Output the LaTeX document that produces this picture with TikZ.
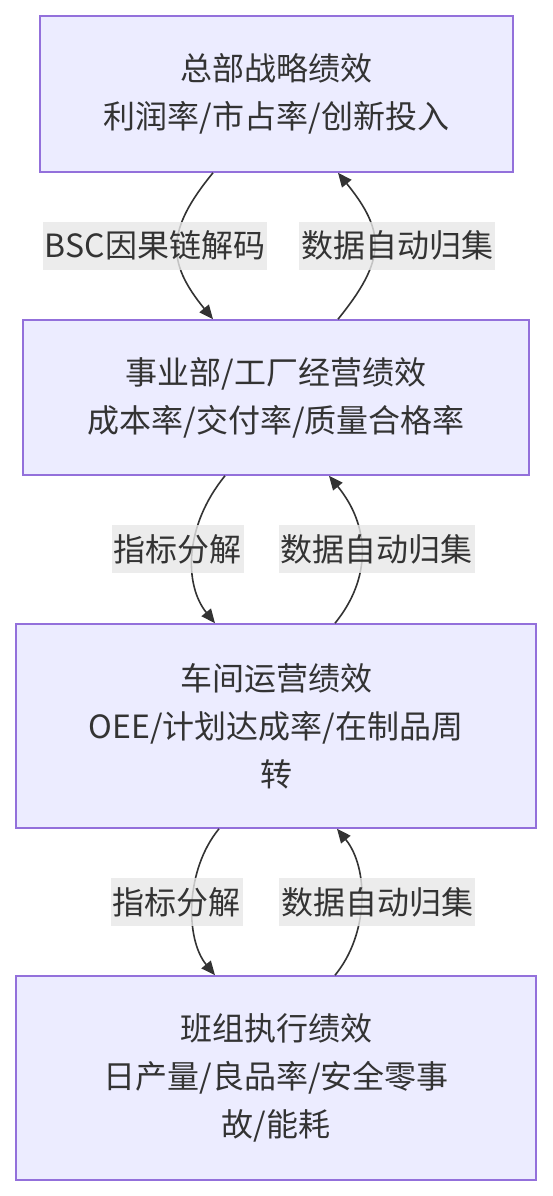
\documentclass[tikz,border=0pt]{standalone}
\usepackage{fontspec}
\setmainfont{Noto Sans CJK SC}
\usetikzlibrary{arrows.meta}
\definecolor{boxfill}{HTML}{ECECFF}
\definecolor{boxline}{HTML}{9370DB}
\definecolor{txt}{HTML}{333333}
\definecolor{lblbg}{HTML}{E8E8E8}
\tikzset{
  level/.style={draw=boxline, fill=boxfill, line width=1.6pt, text=txt, align=center,
    font=\fontsize{32}{48}\selectfont, inner sep=0pt},
  conn/.style={draw=txt, line width=1.6pt, -{Triangle[length=14pt,width=12pt]}},
  lbl/.style={fill=lblbg, fill opacity=0.8, text opacity=1, text=txt,
    font=\fontsize{32}{38}\selectfont, inner xsep=2pt, inner ysep=0pt, minimum height=48pt}
}
\begin{document}
\begin{tikzpicture}[x=1pt,y=-1pt]
\useasboundingbox (0,0) rectangle (552,1196);
\fill[white] (0,0) rectangle (552,1196);
\node[level, minimum width=473pt, minimum height=156pt] (b1) at (276.5,94) {总部战略绩效\\利润率/市占率/创新投入};
\node[level, minimum width=506pt, minimum height=155pt] (b2) at (276,397.5) {事业部/工厂经营绩效\\成本率/交付率/质量合格率};
\node[level, minimum width=520pt, minimum height=204pt] (b3) at (276,726) {车间运营绩效\\OEE/计划达成率/在制品周\\转};
\node[level, minimum width=520pt, minimum height=204pt] (b4) at (276,1078) {班组执行绩效\\日产量/良品率/安全零事\\故/能耗};

% level 1 <-> 2
\draw[conn] ([xshift=-63.5pt]b1.south) .. controls (166,230) and (166,262) .. ([xshift=-63pt]b2.north);
\draw[conn] ([xshift=62pt]b2.north) .. controls (386,260) and (386,232) .. ([xshift=61.5pt]b1.south);
% level 2 <-> 3
\draw[conn] ([xshift=-51pt]b2.south) .. controls (184,526) and (184,585) .. ([xshift=-61pt]b3.north);
\draw[conn] ([xshift=59pt]b3.north) .. controls (371,579) and (371,527) .. ([xshift=53pt]b2.south);
% level 3 <-> 4
\draw[conn] ([xshift=-57pt]b3.south) .. controls (185,870) and (185,939) .. ([xshift=-61pt]b4.north);
\draw[conn] ([xshift=59pt]b4.north) .. controls (369,934) and (369,868) .. ([xshift=61pt]b3.south);

\node[lbl] (l1) at (155,245.5) {BSC因果链解码};
\node[lbl] (l2) at (397,245.5) {数据自动归集};
\node[lbl] (l3) at (177.5,549) {指标分解};
\node[lbl] (l4) at (376.5,549) {数据自动归集};
\node[lbl] (l5) at (176.5,902) {指标分解};
\node[lbl] (l6) at (377,902) {数据自动归集};
\end{tikzpicture}
\end{document}
